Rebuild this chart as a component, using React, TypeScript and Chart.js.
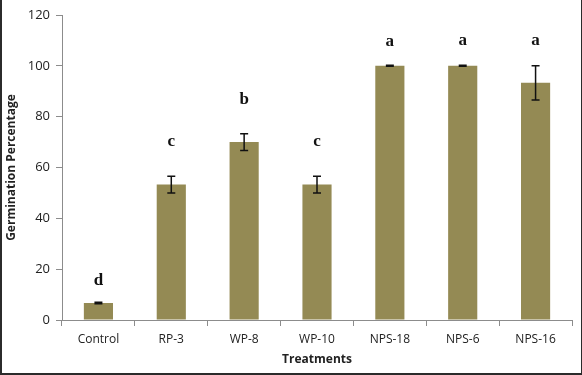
import React, { useEffect, useRef } from "react";
import { Chart, registerables } from "chart.js";

Chart.register(...registerables);

const categories = ["Control", "RP-3", "WP-8", "WP-10", "NPS-18", "NPS-6", "NPS-16"];
const germination = [6.7, 53.3, 70, 53.3, 100, 100, 93.3];
const errors = [0.3, 3.3, 3.3, 3.3, 0.2, 0.2, 6.7];
const letters = ["d", "c", "b", "c", "a", "a", "a"];
const letterLevels = [15.5, 70, 86.6, 70, 109.5, 110, 110];
const yTicks = [0, 20, 40, 60, 80, 100, 120];

const BAR_COLOR = "#948A54";
const AXIS_COLOR = "#8c8c8c";

const annotationPlugin = {
  id: "errorsAndLetters",
  afterDatasetsDraw(chart: any) {
    const ctx = chart.ctx;
    const xs = chart.scales.x;
    const ys = chart.scales.y;
    ctx.save();
    ctx.strokeStyle = "#111";
    ctx.lineWidth = 1.5;
    germination.forEach((v, i) => {
      const x = xs.getPixelForValue(i);
      const top = ys.getPixelForValue(v + errors[i]);
      const bot = ys.getPixelForValue(v - errors[i]);
      const cap = 4;
      ctx.beginPath();
      ctx.moveTo(x, top);
      ctx.lineTo(x, bot);
      ctx.moveTo(x - cap, top);
      ctx.lineTo(x + cap, top);
      ctx.moveTo(x - cap, bot);
      ctx.lineTo(x + cap, bot);
      ctx.stroke();
    });
    ctx.fillStyle = "#111";
    ctx.font = "bold 17px 'Liberation Serif', 'Times New Roman', serif";
    ctx.textAlign = "center";
    ctx.textBaseline = "middle";
    letters.forEach((l, i) => {
      ctx.fillText(l, xs.getPixelForValue(i), ys.getPixelForValue(letterLevels[i]));
    });
    ctx.restore();
  },
};

export default function App() {
  const ref = useRef<HTMLCanvasElement | null>(null);

  useEffect(() => {
    if (!ref.current) return;
    const chart = new Chart(ref.current, {
      type: "bar",
      data: {
        labels: categories,
        datasets: [
          {
            data: germination,
            backgroundColor: BAR_COLOR,
            borderWidth: 0,
            barPercentage: 0.4,
            categoryPercentage: 1,
          },
        ],
      },
      options: {
        animation: false,
        responsive: false,
        maintainAspectRatio: false,
        layout: { padding: { left: 0, top: 15, right: 10, bottom: 0 } },
        plugins: {
          legend: { display: false },
          tooltip: { enabled: false },
        },
        scales: {
          x: {
            grid: {
              offset: true,
              drawOnChartArea: false,
              drawTicks: true,
              tickLength: 6,
              color: AXIS_COLOR,
            },
            border: { color: AXIS_COLOR, width: 1 },
            ticks: {
              color: "#222",
              padding: 6,
              font: { family: "'Open Sans', 'Liberation Sans', sans-serif", size: 12 },
            },
            title: {
              display: true,
              text: "Treatments",
              color: "#222",
              padding: { top: 0, bottom: 8 },
              font: { family: "'Open Sans', 'Liberation Sans', sans-serif", size: 12, weight: "bold" },
            },
            afterFit: (s: any) => {
              s.height = 55;
            },
          },
          y: {
            min: 0,
            max: 120,
            afterBuildTicks: (s: any) => {
              s.ticks = yTicks.map((v) => ({ value: v }));
            },
            grid: {
              drawOnChartArea: false,
              drawTicks: true,
              tickLength: 6,
              color: AXIS_COLOR,
            },
            border: { color: AXIS_COLOR, width: 1 },
            ticks: {
              color: "#222",
              padding: 6,
              font: { family: "'Open Sans', 'Liberation Sans', sans-serif", size: 13 },
            },
            title: {
              display: true,
              text: "Germination Percentage",
              color: "#222",
              padding: { top: 4, bottom: 4 },
              font: { family: "'Open Sans', 'Liberation Sans', sans-serif", size: 12, weight: "bold" },
            },
            afterFit: (s: any) => {
              s.width = 62;
            },
          },
        },
      },
      plugins: [annotationPlugin],
    } as any);
    return () => chart.destroy();
  }, []);

  return (
    <div style={{ position: "fixed", left: 0, top: 0, width: 582, height: 375, background: "#fff" }}>
      <canvas ref={ref} width={582} height={375} style={{ position: "absolute", left: 0, top: 0 }} />
      <div
        style={{
          position: "absolute",
          left: 0,
          top: 0,
          width: 582,
          height: 375,
          boxSizing: "border-box",
          borderLeft: "2px solid #2b2b2b",
          borderRight: "1px solid #2b2b2b",
          borderBottom: "2px solid #2b2b2b",
          pointerEvents: "none",
        }}
      />
    </div>
  );
}
